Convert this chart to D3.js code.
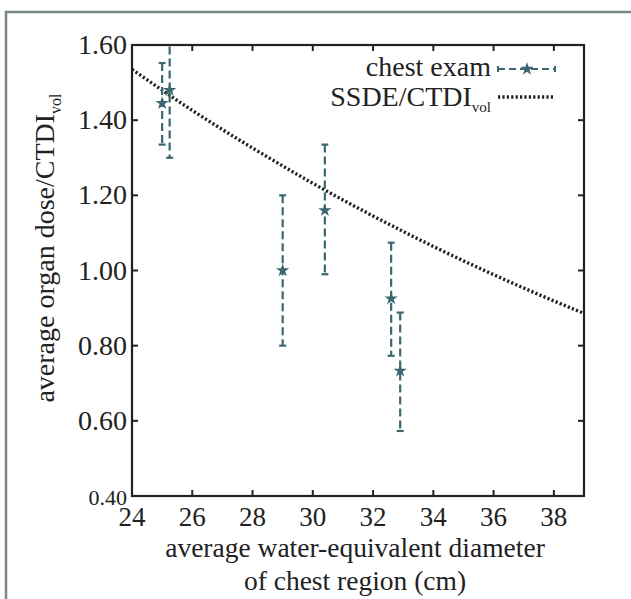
<!DOCTYPE html>
<html>
<head>
<meta charset="utf-8">
<script src="https://cdn.jsdelivr.net/npm/d3@7"></script>
<style>
  body { margin: 0; background: #fff; }
  svg text { font-family: "Liberation Serif", "Times New Roman", serif; fill: #222; }
</style>
</head>
<body>
<svg id="chart" width="631" height="599"></svg>
<script>
// exam points: diameter (cm), mean ratio, lower and upper error ends
var examD = [25.0, 25.25, 29.0, 30.4, 32.6, 32.9];
var examMean = [1.445, 1.48, 1.00, 1.16, 0.925, 0.733];
var examLow = [1.335, 1.30, 0.80, 0.99, 0.773, 0.573];
var examHigh = [1.552, 1.66, 1.20, 1.335, 1.074, 0.888];

// SSDE/CTDIvol curve
var ssdeD = [24, 26, 28, 30, 32, 34, 36, 38, 39];
var ssdeF = [1.535, 1.426, 1.326, 1.232, 1.145, 1.064, 0.989, 0.919, 0.886];

var xTicks = [24, 26, 28, 30, 32, 34, 36, 38];
var yTicks = [0.40, 0.60, 0.80, 1.00, 1.20, 1.40, 1.60];

var pLeft = 132, pRight = 584, pTop = 45, pBottom = 496;
var barColor = "#3b6870";

var svg = d3.select("#chart");

// outer grey frame (only left and top visible)
svg.append("path")
    .attr("d", "M6,599 L6,12 L631,12")
    .attr("fill", "none")
    .attr("stroke", "#7b8787")
    .attr("stroke-width", 2.5);

var x = d3.scaleLinear().domain([24, 39]).range([pLeft, pRight]);
var y = d3.scaleLinear().domain([0.40, 1.60]).range([pBottom, pTop]);

svg.append("clipPath").attr("id", "plotclip")
  .append("rect")
    .attr("x", pLeft).attr("y", pTop)
    .attr("width", pRight - pLeft).attr("height", pBottom - pTop);

var plot = svg.append("g").attr("clip-path", "url(#plotclip)");

// SSDE curve (dotted)
var curve = d3.line()
    .x(d => x(d[0]))
    .y(d => y(d[1]))
    .curve(d3.curveMonotoneX);

plot.append("path")
    .datum(ssdeD.map((d, i) => [d, ssdeF[i]]))
    .attr("d", curve)
    .attr("fill", "none")
    .attr("stroke", "#222")
    .attr("stroke-width", 3.4)
    .attr("stroke-dasharray", "2.2,2.2");

// error bars
var pts = examD.map((d, i) => ({ d: d, m: examMean[i], lo: examLow[i], hi: examHigh[i] }));

plot.selectAll(".eb")
    .data(pts)
    .enter()
    .append("line")
    .attr("x1", p => x(p.d)).attr("x2", p => x(p.d))
    .attr("y1", p => y(p.hi)).attr("y2", p => y(p.lo))
    .attr("stroke", barColor)
    .attr("stroke-width", 2.2)
    .attr("stroke-dasharray", "8,4");

pts.forEach(p => {
    [p.lo, p.hi].forEach(v => {
        plot.append("line")
            .attr("x1", x(p.d) - 3.5).attr("x2", x(p.d) + 3.5)
            .attr("y1", y(v)).attr("y2", y(v))
            .attr("stroke", barColor)
            .attr("stroke-width", 2.2);
    });
});

var star = d3.symbol().type(d3.symbolStar).size(55);
plot.selectAll(".mk")
    .data(pts)
    .enter()
    .append("path")
    .attr("d", star)
    .attr("transform", p => "translate(" + x(p.d) + "," + y(p.m) + ")")
    .attr("fill", barColor);

// frame and inward ticks
svg.append("rect")
    .attr("x", pLeft).attr("y", pTop)
    .attr("width", pRight - pLeft).attr("height", pBottom - pTop)
    .attr("fill", "none")
    .attr("stroke", "#222")
    .attr("stroke-width", 2.2);

var tk = svg.append("g").attr("stroke", "#222").attr("stroke-width", 2);
xTicks.slice(1).forEach(t => {
    tk.append("line").attr("x1", x(t)).attr("x2", x(t)).attr("y1", pBottom).attr("y2", pBottom - 6);
    tk.append("line").attr("x1", x(t)).attr("x2", x(t)).attr("y1", pTop).attr("y2", pTop + 6);
});
yTicks.slice(1, -1).forEach(t => {
    tk.append("line").attr("x1", pLeft).attr("x2", pLeft + 6).attr("y1", y(t)).attr("y2", y(t));
    tk.append("line").attr("x1", pRight).attr("x2", pRight - 6).attr("y1", y(t)).attr("y2", y(t));
});

// tick labels
svg.selectAll(".xl")
    .data(xTicks)
    .enter()
    .append("text")
    .attr("x", d => x(d))
    .attr("y", pBottom + 30)
    .attr("text-anchor", "middle")
    .style("font-size", "27px")
    .text(d => d);

svg.selectAll(".yl")
    .data(yTicks)
    .enter()
    .append("text")
    .attr("x", pLeft - 5)
    .attr("y", d => y(d) + 9)
    .attr("text-anchor", "end")
    .style("font-size", d => d === 0.40 ? "22px" : "28px")
    .text(d => d.toFixed(2));

// axis titles
svg.append("text")
    .attr("x", 355).attr("y", 557)
    .attr("text-anchor", "middle")
    .style("font-size", "27.5px")
    .text("average water-equivalent diameter");
svg.append("text")
    .attr("x", 355).attr("y", 590)
    .attr("text-anchor", "middle")
    .style("font-size", "27.5px")
    .text("of chest region (cm)");

var yt = svg.append("text")
    .attr("transform", "translate(54,248) rotate(-90)")
    .attr("text-anchor", "middle")
    .style("font-size", "28px");
yt.append("tspan").text("average organ dose/CTDI");
yt.append("tspan").attr("dy", 7).style("font-size", "16px").text("vol");

// legend
var lg = svg.append("g");
lg.append("text")
    .attr("x", 491).attr("y", 76)
    .attr("text-anchor", "end")
    .style("font-size", "28px")
    .text("chest exam");
lg.append("line")
    .attr("x1", 498).attr("x2", 555).attr("y1", 69).attr("y2", 69)
    .attr("stroke", barColor).attr("stroke-width", 2)
    .attr("stroke-dasharray", "7,4");
lg.append("path")
    .attr("d", star)
    .attr("transform", "translate(527,69)")
    .attr("fill", barColor);
[498, 555].forEach(v => {
    lg.append("line")
        .attr("x1", v).attr("x2", v).attr("y1", 66).attr("y2", 72)
        .attr("stroke", barColor).attr("stroke-width", 2);
});

var lt = lg.append("text")
    .attr("x", 491).attr("y", 106)
    .attr("text-anchor", "end")
    .style("font-size", "28px");
lt.append("tspan").text("SSDE/CTDI");
lt.append("tspan").attr("dy", 6).style("font-size", "15px").text("vol");
lg.append("line")
    .attr("x1", 498).attr("x2", 555).attr("y1", 97).attr("y2", 97)
    .attr("stroke", "#222").attr("stroke-width", 3.4)
    .attr("stroke-dasharray", "2.2,2.2");
</script>
</body>
</html>
